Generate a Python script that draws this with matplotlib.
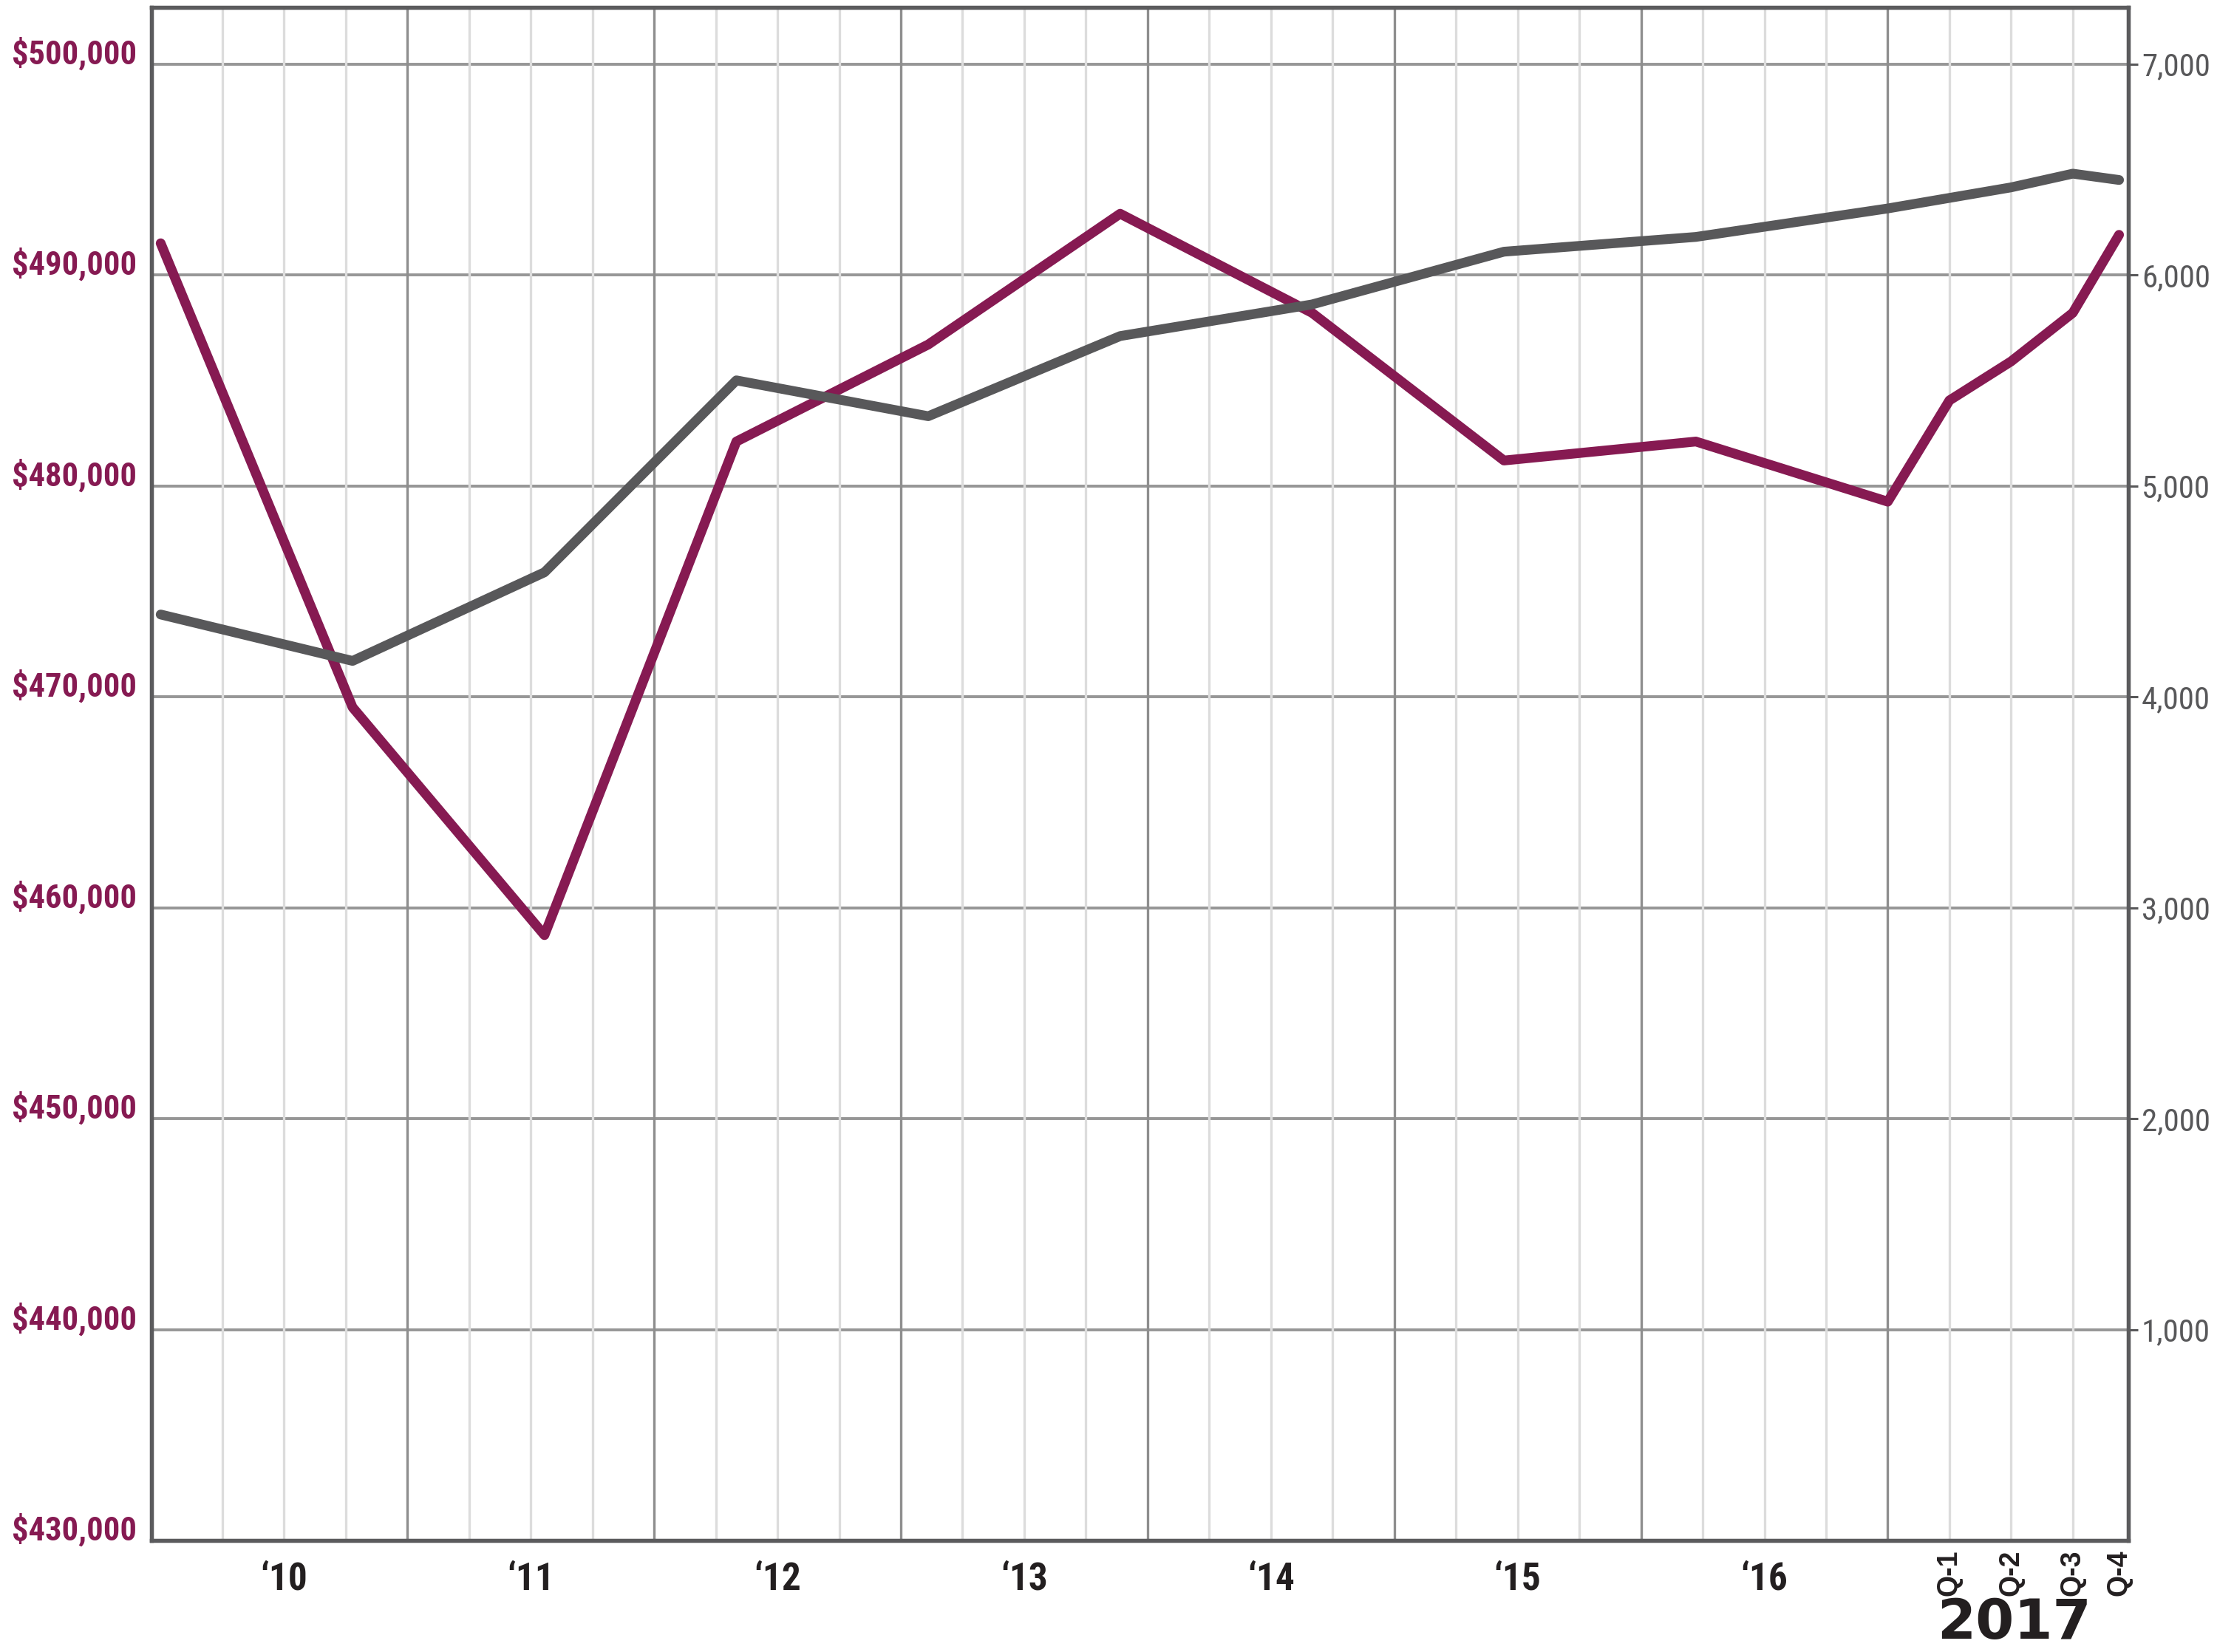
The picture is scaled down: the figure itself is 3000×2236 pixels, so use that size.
import numpy as np
import matplotlib
matplotlib.use("Agg")
import matplotlib.pyplot as plt
from matplotlib import font_manager

# --- data ---
year_labels = ["\u201810", "\u201811", "\u201812", "\u201813", "\u201814", "\u201815", "\u201816"]
quarter_labels = ["Q-1", "Q-2", "Q-3", "Q-4"]

# median price (left axis) : 10 annual points then 4 quarters of 2017
price_annual = [491500, 469500, 458700, 482100, 486700, 492900, 488200, 481200, 482100, 479250]
price_quarter = [484050, 485900, 488200, 491900]

# sales (right axis)
sales_annual = [4390, 4170, 4590, 5500, 5330, 5710, 5860, 6110, 6180, 6315]
sales_quarter = [6365, 6415, 6480, 6450]

left_ticks = [430000, 440000, 450000, 460000, 470000, 480000, 490000, 500000]
right_ticks = [1000, 2000, 3000, 4000, 5000, 6000, 7000]

# --- fonts ---
names = {f.name for f in font_manager.fontManager.ttflist}
narrow = next((n for n in ["Liberation Sans Narrow", "Roboto Condensed", "Open Sans Condensed"] if n in names), "DejaVu Sans")
stretch = "normal" if narrow != "DejaVu Sans" else "condensed"
wide = "Liberation Sans" if "Liberation Sans" in names else "DejaVu Sans"

purple = "#861a52"
dark = "#58585a"
major_c = "#8e8e8e"
minor_c = "#dcdcdc"

fig = plt.figure(figsize=(30, 22.36), dpi=100)
ax = fig.add_axes([0.0683, 0.0675, 0.8917, 0.928])
ax2 = ax.twinx()

# x positions: quarter units, year boundaries every 4
x_annual = np.linspace(0, 28, len(price_annual))
x_quarter = np.array([29, 30, 31, 31.75])
x = np.concatenate([x_annual, x_quarter])

ax.set_xlim(-0.15, 31.9)
ax.set_ylim(430000, 502680)
ax2.set_ylim(0, 7268)

# grid
for v in left_ticks:
    ax.axhline(v, color="#969696", lw=2.8, zorder=1)
for q in range(1, 32):
    if q % 4 == 0:
        ax.axvline(q, color=major_c, lw=2.4, zorder=2)
    else:
        ax.axvline(q, color=minor_c, lw=2.4, zorder=2)

ax.plot(x, price_annual + price_quarter, color=purple, lw=9.5,
        solid_capstyle="round", solid_joinstyle="round", zorder=3)
ax2.plot(x, sales_annual + sales_quarter, color=dark, lw=9.5,
         solid_capstyle="round", solid_joinstyle="round", zorder=3)

# spines
for a in (ax, ax2):
    for s in a.spines.values():
        s.set_color("#5b5b5d")
        s.set_linewidth(3.8)

# left axis labels
ax.set_yticks(left_ticks)
ax.set_yticklabels(["${:,}".format(v) for v in left_ticks])
ax.tick_params(axis="y", length=0, pad=14, labelsize=32, labelcolor=purple)
for lab in ax.get_yticklabels():
    lab.set_fontfamily(narrow)
    lab.set_fontstretch(stretch)
    lab.set_fontweight("bold")
    lab.set_va("baseline")

# right axis labels
ax2.set_yticks(right_ticks)
ax2.set_yticklabels(["{:,}".format(v) for v in right_ticks])
ax2.tick_params(axis="y", length=9, width=2.2, color=dark, pad=4,
                labelsize=31, labelcolor=dark, direction="out")
for lab in ax2.get_yticklabels():
    lab.set_fontfamily(narrow)
    lab.set_fontstretch(stretch)

# x labels: years centred in their block
ax.set_xticks(np.arange(len(year_labels)) * 4 + 2)
ax.set_xticklabels(year_labels)
ax.tick_params(axis="x", length=0, pad=20, labelsize=37, labelcolor="#231f20")
for lab in ax.get_xticklabels():
    lab.set_fontfamily(narrow)
    lab.set_fontstretch(stretch)
    lab.set_fontweight("bold")

for xq, lab in zip(x_quarter, quarter_labels):
    ax.text(xq, -0.006, lab, transform=ax.get_xaxis_transform(), rotation=90,
            ha="center", va="top", fontsize=27, fontweight="bold",
            fontfamily=wide, color="#231f20")
ax.text(30.05, -0.064, "2017", transform=ax.get_xaxis_transform(),
        ha="center", va="baseline", fontsize=54, fontweight="bold",
        fontfamily="DejaVu Sans", color="#231f20")

fig.savefig("out.png", dpi=100, facecolor="white")
